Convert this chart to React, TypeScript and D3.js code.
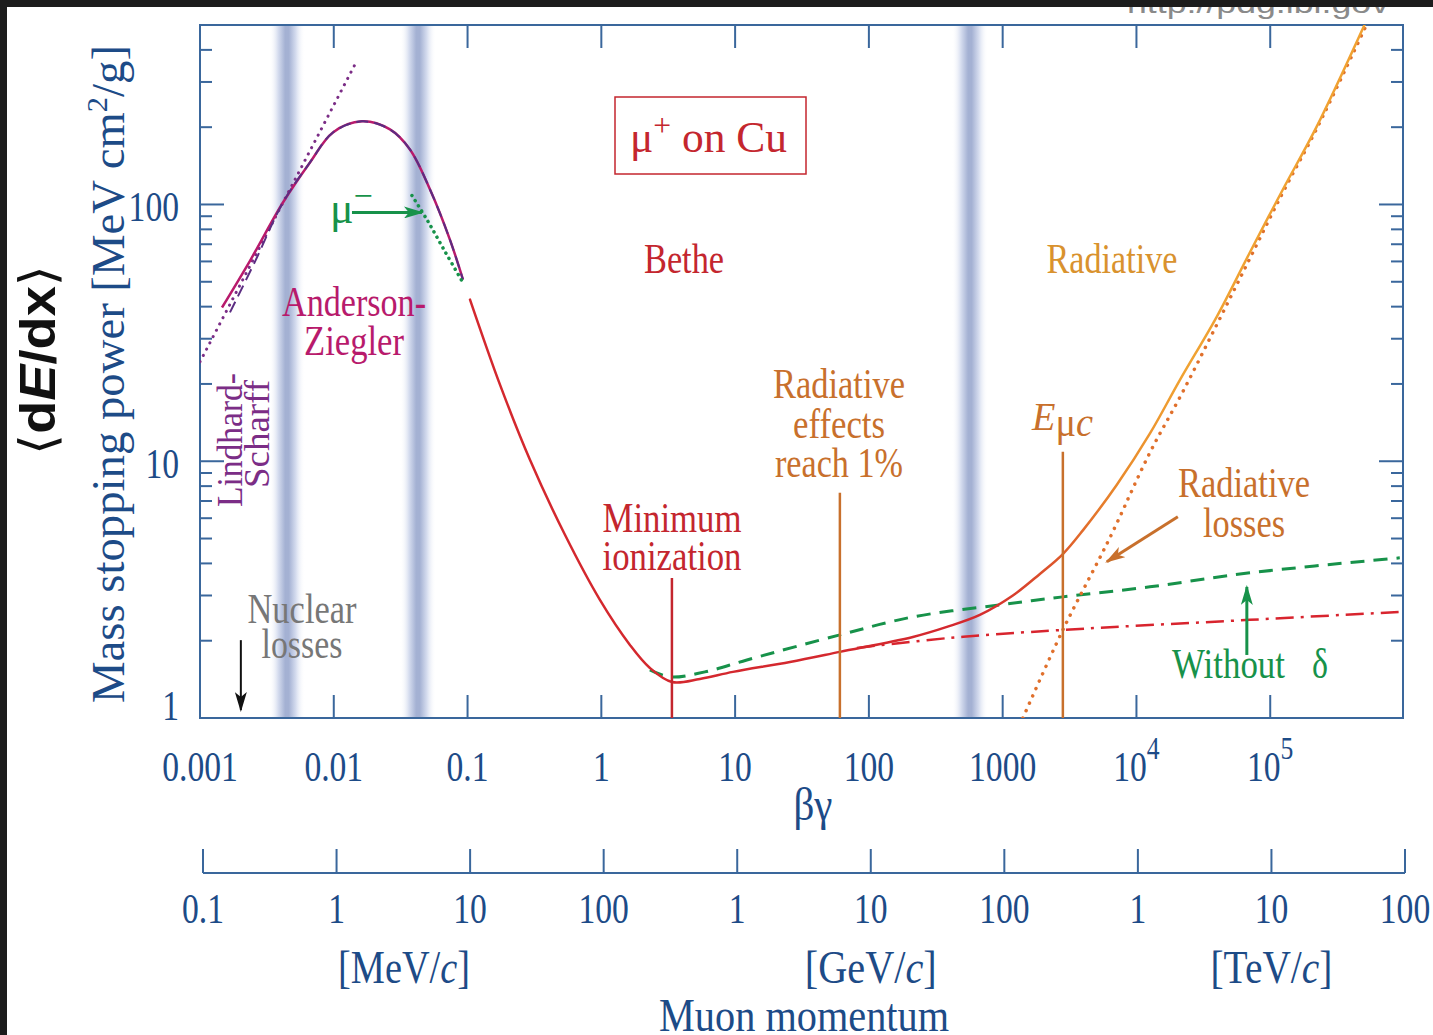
import * as d3 from 'd3';

// beta*gamma decades on the main axis
const bgTicks = [1e-3, 1e-2, 1e-1, 1, 10, 100, 1000, 1e4, 1e5];
const bgTickLabels = ['0.001', '0.01', '0.1', '1', '10', '100', '1000', '10^4', '10^5'];

const stopTicks = [1, 10, 100];
const stopTickLabels = ['1', '10', '100'];

// muon momentum in MeV/c
const momTicks = [0.1, 1, 10, 100, 1e3, 1e4, 1e5, 1e6, 1e7, 1e8];
const momTickLabels = ['0.1', '1', '10', '100', '1', '10', '100', '1', '10', '100'];
const momUnits = ['MeV', 'GeV', 'TeV'];
const momUnitAt = [3.2, 1e4, 1e7];

// shaded transition bands (beta*gamma)
const bandBg = [0.00447, 0.0426, 569];

// [beta*gamma, stopping power]
const andersonZiegler: [number, number][] = [
  [0.00146, 39.7], [0.00237, 60.5], [0.00417, 101.8], [0.00664, 145.8], [0.00986, 190.8],
  [0.01625, 210.7], [0.0263, 196], [0.0371, 163.8], [0.0524, 114.4], [0.0738, 73.0], [0.0924, 51.0],
];
const lindhardDashed: [number, number][] = [
  [0.001675, 38.0], [0.002576, 59.9], [0.00417, 101.8], [0.00664, 145.8], [0.00986, 190.8],
  [0.01625, 210.7], [0.0263, 196], [0.0371, 163.8], [0.0524, 114.4], [0.0738, 73.0], [0.0924, 51.0],
];
const lindhardDotted: [number, number][] = [[0.001, 24.4], [0.0144, 351]];
const muMinus: [number, number][] = [[0.0384, 108.4], [0.0506, 85.9], [0.0678, 65.6], [0.0924, 49.6]];

const bethe: [number, number][] = [
  [0.1043, 42.6], [0.1747, 19.87], [0.2927, 10.13], [0.5346, 5.17], [0.976, 2.884], [1.636, 1.926],
  [2.307, 1.566], [3.372, 1.381], [5.458, 1.419], [9.63, 1.512], [25.7, 1.653], [60.7, 1.809],
  [213.3, 2.069], [383, 2.264], [675, 2.521], [1192, 3.0], [1897, 3.64], [2818, 4.35],
  [3977, 5.38], [7137, 8.1], [12590, 12.8], [21100, 20.7], [39900, 36.6], [70400, 65.0],
  [124300, 114.4], [223000, 201.4], [509000, 503],
];
const withoutDelta: [number, number][] = [
  [2.307, 1.54], [3.256, 1.445], [5.948, 1.512], [12.25, 1.683], [60.7, 2.107], [213.3, 2.476],
  [953, 2.758], [2818, 2.963], [12590, 3.242], [70400, 3.675], [930000, 4.205],
];
const ionization: [number, number][] = [
  [81.35, 1.875], [403, 2.051], [2818, 2.203], [70400, 2.411], [930000, 2.59],
];
const radiative: [number, number][] = [
  [1416, 1.0], [2818, 2.203], [6324, 5.03], [12590, 10.79], [22230, 18.66], [39900, 34.06],
  [70400, 61.6], [124300, 111.4], [223000, 197.8], [518000, 494],
];

// vertical markers: minimum ionization, radiative 1%, critical energy
const markerBg = [3.37, 60.7, 2818];
const markerTop = [3.51, 7.54, 10.9];

// arrows [from, to]
const nuclearArrow: [number, number][] = [[0.00202, 2.01], [0.00202, 1.074]];
const muMinusArrow: [number, number][] = [[0.01368, 93.1], [0.0456, 93.1]];
const radLossArrow: [number, number][] = [[20390, 6.08], [6012, 4.06]];
const deltaArrow: [number, number][] = [[66870, 1.76], [66870, 3.24]];

const serif = "'Liberation Serif', 'Times New Roman', serif";
const axisColor = '#3a679c';
const axisText = '#1d4b87';
const red = '#c4262e';
const orange = '#c8702c';
const green = '#17924a';
const magenta = '#b81a6c';
const purple = '#7b2d86';

function Label({ x, y, w, size = 42, fill, anchor = 'middle', rotate = 0, children }: any) {
  return (
    <text
      transform={`translate(${x},${y}) rotate(${rotate})`}
      textAnchor={anchor}
      fontFamily={serif}
      fontSize={size}
      fill={fill}
      textLength={w}
      lengthAdjust="spacingAndGlyphs"
    >
      {children}
    </text>
  );
}

export default function App() {
  const left = 200, right = 1403, top = 25, bottom = 718;
  const x = d3.scaleLog().domain([1e-3, 1e6]).range([left, 1404]);
  const y = d3.scaleLog().domain([1, 500]).range([bottom, top]);
  const xm = d3.scaleLog().domain([0.1, 1e8]).range([203, 1405]);
  const momY = 873;

  const smooth = d3
    .line<[number, number]>()
    .x((d) => x(d[0]))
    .y((d) => y(d[1]))
    .curve(d3.curveCatmullRom.alpha(0.5));
  const straight = d3
    .line<[number, number]>()
    .x((d) => x(d[0]))
    .y((d) => y(d[1]));

  const yTicks = y.ticks().filter((v) => v < 500);
  const isMajor = (v: number) => Math.abs(Math.log10(v) - Math.round(Math.log10(v))) < 1e-6;
  const markerColors = [red, orange, orange];

  return (
    <div style={{ position: 'absolute', left: 0, top: 0 }}>
      <svg width={1433} height={1035} style={{ display: 'block', background: '#fff' }}>
        <defs>
          <linearGradient id="band" x1="0" x2="1" y1="0" y2="0">
            <stop offset="0%" stopColor="#ffffff" stopOpacity={0} />
            <stop offset="25%" stopColor="#d6ddef" />
            <stop offset="45%" stopColor="#a4b1d3" />
            <stop offset="55%" stopColor="#a4b1d3" />
            <stop offset="75%" stopColor="#d6ddef" />
            <stop offset="100%" stopColor="#ffffff" stopOpacity={0} />
          </linearGradient>
          <linearGradient id="betheGrad" gradientUnits="userSpaceOnUse" x1={x(600)} x2={x(22000)} y1={0} y2={0}>
            <stop offset="0%" stopColor="#d4282e" />
            <stop offset="40%" stopColor="#dd572b" />
            <stop offset="70%" stopColor="#e98a2c" />
            <stop offset="100%" stopColor="#f0a232" />
          </linearGradient>
          <clipPath id="plot">
            <rect x={left} y={top} width={right - left} height={bottom - top} />
          </clipPath>
          {[
            ['arrBlack', '#111'],
            ['arrGreen', green],
            ['arrOrange', orange],
          ].map(([id, c]) => (
            <marker
              key={id}
              id={id}
              viewBox="0 0 20 12"
              refX={18}
              refY={6}
              markerWidth={20}
              markerHeight={12}
              markerUnits="userSpaceOnUse"
              orient="auto"
            >
              <path d="M0,0 L20,6 L0,12 L5,6 Z" fill={c} />
            </marker>
          ))}
        </defs>

        {/* page frame remnants */}
        <text x={1258} y={13} textAnchor="middle" fontFamily="'Liberation Sans', sans-serif" fontSize={28} fill="#8a8a8a" textLength={262} lengthAdjust="spacingAndGlyphs">
          http://pdg.lbl.gov
        </text>
        <rect x={0} y={0} width={1433} height={7} fill="#1c1c1c" />
        <rect x={0} y={0} width={7} height={1035} fill="#1c1c1c" />

        {/* bands */}
        {bandBg.map((b) => (
          <rect key={b} x={x(b) - 18} y={top} width={36} height={bottom - top} fill="url(#band)" />
        ))}

        {/* frame and ticks */}
        <rect x={left} y={top} width={right - left} height={bottom - top} fill="none" stroke={axisColor} strokeWidth={2} />
        {bgTicks.map((t) => (
          <g key={t} stroke={axisColor} strokeWidth={2}>
            <line x1={x(t)} x2={x(t)} y1={bottom} y2={bottom - 23} />
            <line x1={x(t)} x2={x(t)} y1={top} y2={top + 23} />
          </g>
        ))}
        {yTicks.map((t) => {
          const len = isMajor(t) ? 24 : 12;
          return (
            <g key={t} stroke={axisColor} strokeWidth={2}>
              <line x1={left} x2={left + len} y1={y(t)} y2={y(t)} />
              <line x1={right} x2={right - len} y1={y(t)} y2={y(t)} />
            </g>
          );
        })}

        {/* tick labels */}
        {bgTicks.map((t, i) => {
          const [base, exp] = bgTickLabels[i].split('^');
          return (
            <text key={t} transform={`translate(${x(t)},781) scale(0.8,1)`} textAnchor="middle" fontFamily={serif} fontSize={42} fill={axisText}>
              {base}
              {exp && (
                <tspan dy={-22} fontSize={32}>
                  {exp}
                </tspan>
              )}
            </text>
          );
        })}
        {stopTicks.map((t, i) => (
          <text key={t} transform={`translate(179,${Math.min(y(t) + 17, 720)}) scale(0.8,1)`} textAnchor="end" fontFamily={serif} fontSize={42} fill={axisText}>
            {stopTickLabels[i]}
          </text>
        ))}
        <Label x={813} y={820} w={39} size={46} fill={axisText}>
          βγ
        </Label>

        {/* momentum axis */}
        <g stroke={axisColor} strokeWidth={2}>
          <line x1={xm(0.1)} x2={xm(1e8)} y1={momY} y2={momY} />
          {momTicks.map((t) => (
            <line key={t} x1={xm(t)} x2={xm(t)} y1={momY} y2={momY - 24} />
          ))}
        </g>
        {momTicks.map((t, i) => (
          <text key={t} transform={`translate(${xm(t)},923) scale(0.8,1)`} textAnchor="middle" fontFamily={serif} fontSize={42} fill={axisText}>
            {momTickLabels[i]}
          </text>
        ))}
        {momUnits.map((u, i) => (
          <Label key={u} x={xm(momUnitAt[i])} y={983} w={u === 'TeV' ? 122 : 132} size={46} fill={axisText}>
            [{u}/<tspan fontStyle="italic">c</tspan>]
          </Label>
        ))}
        <Label x={804} y={1031} w={290} size={46} fill={axisText}>
          Muon momentum
        </Label>

        {/* y labels */}
        <Label x={124} y={374} w={658} size={46} fill={axisText} rotate={-90}>
          Mass stopping power [MeV cm<tspan dy={-17} fontSize={30}>2</tspan>
          <tspan dy={17}>/g]</tspan>
        </Label>
        <text
          transform="translate(55,360) rotate(-90)"
          textAnchor="middle"
          fontFamily="'Liberation Sans', 'DejaVu Sans', sans-serif"
          fontWeight="bold"
          fontSize={50}
          fill="#111"
          textLength={190}
          lengthAdjust="spacingAndGlyphs"
        >
          <tspan fontWeight="normal" fontFamily="'DejaVu Sans', sans-serif">⟨</tspan>d<tspan fontStyle="italic">E</tspan>/dx
          <tspan fontWeight="normal" fontFamily="'DejaVu Sans', sans-serif">⟩</tspan>
        </text>

        {/* curves */}
        <g clipPath="url(#plot)" fill="none" strokeLinecap="round">
          <path d={straight(lindhardDotted) || ''} stroke={purple} strokeWidth={3} strokeDasharray="0.1 7" />
          <path d={smooth(andersonZiegler) || ''} stroke={magenta} strokeWidth={2.5} strokeLinecap="butt" />
          <path d={smooth(lindhardDashed) || ''} stroke="#5b2d82" strokeWidth={2} strokeDasharray="12 6" strokeLinecap="butt" />
          <path d={smooth(muMinus) || ''} stroke={green} strokeWidth={3.5} strokeDasharray="0.1 6" />
          <path d={smooth(withoutDelta) || ''} stroke={green} strokeWidth={3} strokeDasharray="14 9" strokeLinecap="butt" />
          <path d={smooth(ionization) || ''} stroke="#d8242e" strokeWidth={2.5} strokeDasharray="18 7 3 7" strokeLinecap="butt" />
          <path d={smooth(radiative) || ''} stroke="#e0702c" strokeWidth={3.5} strokeDasharray="0.1 8" />
          <path d={smooth(bethe) || ''} stroke="url(#betheGrad)" strokeWidth={2.5} />
        </g>

        {/* vertical markers */}
        {markerBg.map((b, i) => (
          <line key={b} x1={x(b)} x2={x(b)} y1={y(1)} y2={y(markerTop[i])} stroke={markerColors[i]} strokeWidth={2.5} />
        ))}

        {/* arrows */}
        <path d={straight(nuclearArrow) || ''} stroke="#111" strokeWidth={2} markerEnd="url(#arrBlack)" />
        <path d={straight(muMinusArrow) || ''} stroke={green} strokeWidth={3} markerEnd="url(#arrGreen)" />
        <path d={straight(radLossArrow) || ''} stroke={orange} strokeWidth={3} markerEnd="url(#arrOrange)" />
        <path d={straight(deltaArrow) || ''} stroke={green} strokeWidth={3} markerEnd="url(#arrGreen)" />

        {/* annotations */}
        <rect x={615} y={97} width={191} height={77} fill="none" stroke={red} strokeWidth={1.5} />
        <Label x={630} y={152} w={157} size={44} fill={red} anchor="start">
          μ<tspan dy={-16} fontSize={32}>+</tspan>
          <tspan dy={16}> on Cu</tspan>
        </Label>
        <Label x={684} y={273} w={80} fill={red}>Bethe</Label>
        <Label x={1112} y={273} w={131} fill="#d9922e">Radiative</Label>
        <Label x={354} y={316} w={144} fill={magenta}>Anderson-</Label>
        <Label x={354} y={355} w={100} fill={magenta}>Ziegler</Label>
        <Label x={242} y={440} w={134} size={36} fill={purple} rotate={-90}>Lindhard-</Label>
        <Label x={269} y={434} w={108} size={36} fill={purple} rotate={-90}>Scharff</Label>
        <Label x={302} y={623} w={109} fill="#777">Nuclear</Label>
        <Label x={302} y={658} w={81} fill="#777">losses</Label>
        <Label x={672} y={532} w={139} fill={red}>Minimum</Label>
        <Label x={672} y={570} w={139} fill={red}>ionization</Label>
        <Label x={839} y={398} w={132} fill={orange}>Radiative</Label>
        <Label x={839} y={438} w={92} fill={orange}>effects</Label>
        <Label x={839} y={477} w={128} fill={orange}>reach 1%</Label>
        <Label x={1032} y={430} w={61} size={40} fill={orange} anchor="start">
          <tspan fontStyle="italic">E</tspan>
          <tspan dy={6}>μ</tspan>
          <tspan fontStyle="italic">c</tspan>
        </Label>
        <Label x={1244} y={497} w={132} fill={orange}>Radiative</Label>
        <Label x={1244} y={537} w={82} fill={orange}>losses</Label>
        <Label x={1172} y={678} w={113} fill={green} anchor="start">Without</Label>
        <Label x={1312} y={678} w={16} fill={green} anchor="start">δ</Label>
        <text x={330} y={223} fontFamily={serif} fontSize={44} fill={green}>
          μ<tspan dy={-16} fontSize={34}>−</tspan>
        </text>
      </svg>
    </div>
  );
}
